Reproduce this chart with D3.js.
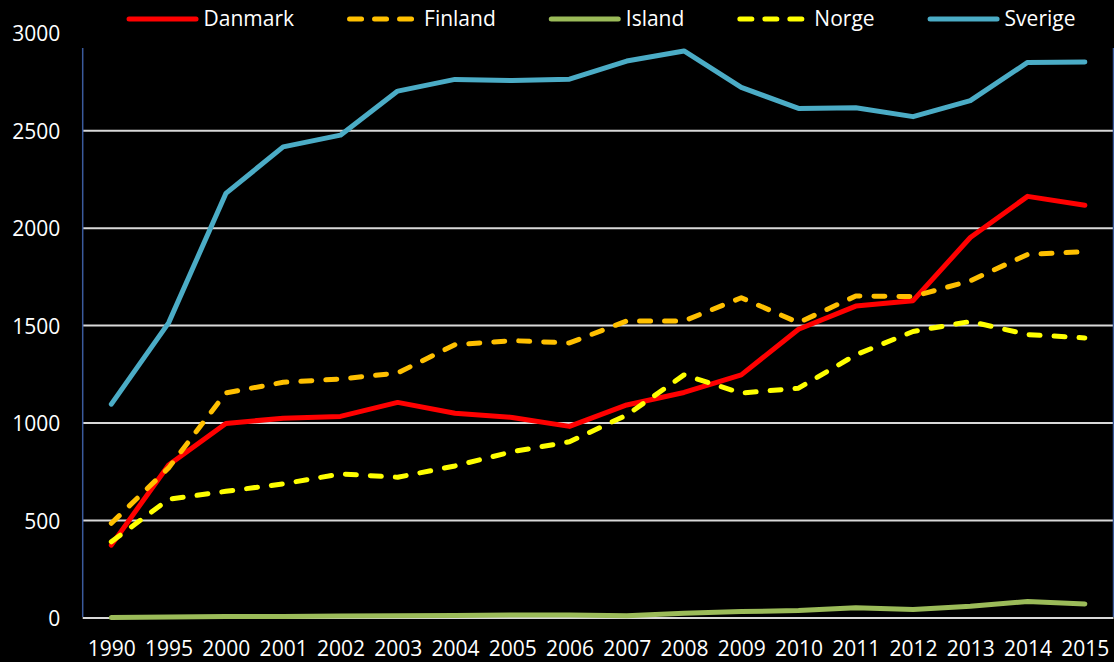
<!DOCTYPE html>
<html>
<head>
<meta charset="utf-8">
<script src="https://cdn.jsdelivr.net/npm/d3@7"></script>
<style>
  body { margin: 0; background: #000; }
  svg { display: block; font-family: "Open Sans", sans-serif; }
</style>
</head>
<body>
<div class="chart-container"></div>
<script>
/* Data
   ========================================================================== */
var years = ["1990", "1995", "2000", "2001", "2002", "2003", "2004", "2005", "2006",
             "2007", "2008", "2009", "2010", "2011", "2012", "2013", "2014", "2015"];

var danmark = [374, 785, 998, 1025, 1034, 1106, 1050, 1029, 983, 1093, 1157, 1247, 1481, 1600, 1628, 1952, 2163, 2117];
var finland = [486, 770, 1155, 1209, 1226, 1257, 1402, 1423, 1411, 1524, 1524, 1643, 1515, 1652, 1649, 1730, 1865, 1879];
var island  = [2, 5, 8, 8, 10, 12, 13, 16, 16, 12, 24, 33, 38, 52, 43, 60, 85, 72];
var norge   = [391, 609, 650, 688, 739, 722, 780, 853, 904, 1041, 1247, 1154, 1179, 1350, 1470, 1521, 1454, 1437];
var sverige = [1097, 1514, 2178, 2417, 2477, 2703, 2763, 2757, 2764, 2857, 2909, 2722, 2614, 2618, 2572, 2654, 2850, 2852];

var yTicks = [0, 500, 1000, 1500, 2000, 2500, 3000];

var series = [
    { name: "Danmark", values: danmark, color: "#ff0000", dash: null },
    { name: "Finland", values: finland, color: "#ffc000", dash: "11,14" },
    { name: "Island",  values: island,  color: "#9bbb59", dash: null },
    { name: "Norge",   values: norge,   color: "#ffff00", dash: "11,14" },
    { name: "Sverige", values: sverige, color: "#4bacc6", dash: null }
];

/* Layout
   ========================================================================== */
var W = 1114, H = 662;
var plot = { left: 82.7, right: 1113.5, top: 33.2, bottom: 618 };
var fontSize = "21px";

var svg = d3.select(".chart-container").append("svg")
    .attr("width", W)
    .attr("height", H);

svg.append("rect")
    .attr("width", W)
    .attr("height", H)
    .attr("fill", "#000");

// Scales
var x = d3.scalePoint()
    .domain(years)
    .range([plot.left, plot.right])
    .padding(0.5);
var y = d3.scaleLinear()
    .domain([0, 3000])
    .range([plot.bottom, plot.top]);

// Gridlines (the 3000 one ends up hidden behind the legend box, as in Excel)
svg.append("g")
    .attr("class", "grid")
    .selectAll("line")
    .data(yTicks)
    .enter().append("line")
    .attr("x1", plot.left)
    .attr("x2", plot.right)
    .attr("y1", function(d) { return y(d); })
    .attr("y2", function(d) { return y(d); })
    .attr("stroke", "#d9d9d9")
    .attr("stroke-width", 2);

// Y axis labels
var yAxis = svg.append("g")
    .attr("class", "y-axis")
    .attr("transform", "translate(" + plot.left + ",0)")
    .call(d3.axisLeft(y).tickValues(yTicks).tickFormat(d3.format("d")).tickSize(0).tickPadding(22.5));
yAxis.select(".domain").remove();
yAxis.selectAll("text")
    .attr("dy", "0.36em")
    .attr("fill", "#fff")
    .style("font-size", fontSize)
    .style("font-family", "'Open Sans', sans-serif");

// X axis labels
var xAxis = svg.append("g")
    .attr("class", "x-axis")
    .attr("transform", "translate(0," + plot.bottom + ")")
    .call(d3.axisBottom(x).tickSize(0));
xAxis.select(".domain").remove();
xAxis.selectAll("text")
    .attr("y", 38)
    .attr("dy", 0)
    .attr("fill", "#fff")
    .style("font-size", fontSize)
    .style("font-family", "'Open Sans', sans-serif");

// Lines
var line = d3.line()
    .x(function(d, i) { return x(years[i]); })
    .y(function(d) { return y(d); });

svg.append("g")
    .attr("class", "lines")
    .selectAll("path")
    .data(series)
    .enter().append("path")
    .attr("d", function(s) { return line(s.values); })
    .attr("fill", "none")
    .attr("stroke", function(s) { return s.color; })
    .attr("stroke-width", 5)
    .attr("stroke-linecap", "round")
    .attr("stroke-linejoin", "round")
    .attr("stroke-dasharray", function(s) { return s.dash; });

/* Legend
   ========================================================================== */
svg.append("rect")
    .attr("x", plot.left - 1)
    .attr("y", 0)
    .attr("width", plot.right - plot.left + 2)
    .attr("height", 47.5)
    .attr("fill", "#000");

// Axis lines drawn after the legend box so it clips their tops
[plot.left, plot.right].forEach(function(px) {
    svg.append("line")
        .attr("x1", px).attr("x2", px)
        .attr("y1", 48).attr("y2", plot.bottom - 1)
        .attr("stroke", "#3a5a9c")
        .attr("stroke-width", 1.5);
});

var legend = svg.append("g").attr("class", "legend");
var items = legend.selectAll("g")
    .data(series)
    .enter().append("g");

// Solid keys run 0..72, dashed keys show three dashes over 0..67
items.append("line")
    .attr("x1", 2.5)
    .attr("x2", function(s) { return s.dash ? 64.5 : 69.5; })
    .attr("y1", 19).attr("y2", 19)
    .attr("stroke", function(s) { return s.color; })
    .attr("stroke-width", 5)
    .attr("stroke-linecap", "round")
    .attr("stroke-dasharray", function(s) { return s.dash ? "12,13" : null; });

items.append("text")
    .attr("x", 77)
    .attr("y", 26)
    .attr("fill", "#fff")
    .style("font-size", fontSize)
    .text(function(s) { return s.name; });

// Place legend items side by side, centered over the plot
var offsets = [], pos = 0;
items.each(function() {
    var w = d3.select(this).select("text").node().getComputedTextLength();
    offsets.push(pos);
    pos += 77 + w + 53;
});
var total = pos - 53;
var start = 601 - total / 2;
items.attr("transform", function(d, i) { return "translate(" + (start + offsets[i]) + ",0)"; });
</script>
</body>
</html>
